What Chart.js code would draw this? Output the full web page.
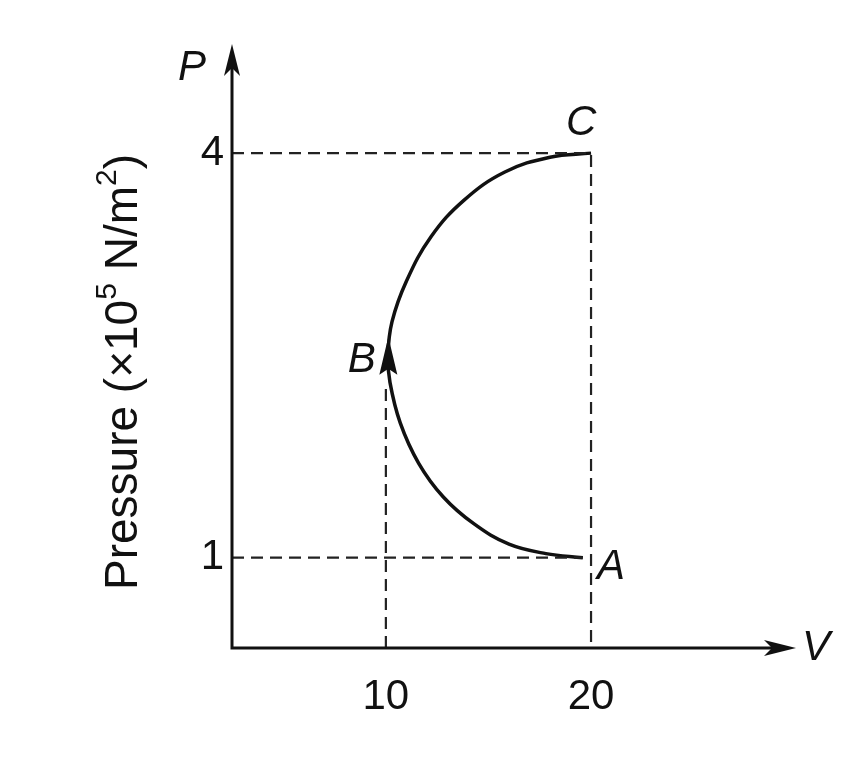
<!DOCTYPE html>
<html>
<head>
<meta charset="utf-8">
<script src="https://cdn.jsdelivr.net/npm/chart.js@4"></script>
<style>
  html, body { margin: 0; padding: 0; background: #fff; }
  #wrap { width: 860px; height: 763px; }
</style>
</head>
<body>
<div id="wrap"><canvas id="c"></canvas></div>
<script>
// curve A -> B -> C (V, P)
const curveV = [19.6, 17.8, 16.0, 14.3, 12.8, 11.6, 10.7, 10.2, 10.1, 10.3, 11.0, 12.2, 13.8, 15.8, 18.0, 20.0];
const curveP = [1.0, 1.03, 1.1, 1.25, 1.45, 1.7, 2.0, 2.3, 2.5, 2.75, 3.05, 3.38, 3.65, 3.86, 3.97, 4.0];
const xTicks = [10, 20];
const yTicks = [1, 4];
const pointLabels = [
  { text: 'A', v: 20, p: 1 },
  { text: 'B', v: 10, p: 2.46 },
  { text: 'C', v: 20, p: 4 }
];
const X_MIN = 2.5, X_MAX = 29.6;
const Y_MIN = 0.33, Y_MAX = 4.75;

const curve = curveV.map((v, i) => ({ x: v, y: curveP[i] }));
const dash = { borderColor: '#222', borderWidth: 2.2, borderDash: [12, 7], pointRadius: 0, fill: false, tension: 0 };

const axesPlugin = {
  id: 'axes',
  afterDraw(chart) {
    const ctx = chart.ctx;
    const xs = chart.scales.x, ys = chart.scales.y;
    const x0 = xs.getPixelForValue(X_MIN), y0 = ys.getPixelForValue(Y_MIN);
    const xEnd = xs.getPixelForValue(X_MAX), yEnd = ys.getPixelForValue(Y_MAX);
    ctx.save();
    ctx.strokeStyle = '#111'; ctx.fillStyle = '#111'; ctx.lineWidth = 3;
    ctx.beginPath();
    ctx.moveTo(x0, yEnd + 10); ctx.lineTo(x0, y0); ctx.lineTo(xEnd - 10, y0);
    ctx.stroke();
    // arrow heads
    ctx.beginPath();
    ctx.moveTo(x0, yEnd - 8); ctx.lineTo(x0 - 8, yEnd + 24); ctx.lineTo(x0, yEnd + 16); ctx.lineTo(x0 + 8, yEnd + 24); ctx.closePath(); ctx.fill();
    ctx.beginPath();
    ctx.moveTo(xEnd + 8, y0); ctx.lineTo(xEnd - 24, y0 - 8); ctx.lineTo(xEnd - 16, y0); ctx.lineTo(xEnd - 24, y0 + 8); ctx.closePath(); ctx.fill();
    // arrow at B on curve
    const bx = xs.getPixelForValue(10.12), by = ys.getPixelForValue(2.46);
    ctx.beginPath();
    ctx.moveTo(bx, by - 24); ctx.lineTo(bx - 9, by + 14); ctx.lineTo(bx, by + 8); ctx.lineTo(bx + 9, by + 14); ctx.closePath(); ctx.fill();

    ctx.font = '42px "Liberation Sans", Arial, sans-serif';
    ctx.textAlign = 'center'; ctx.textBaseline = 'top';
    xTicks.forEach(t => ctx.fillText(String(t), xs.getPixelForValue(t), y0 + 28));
    ctx.textAlign = 'right'; ctx.textBaseline = 'middle';
    yTicks.forEach(t => ctx.fillText(String(t), x0 - 8, ys.getPixelForValue(t)));

    ctx.font = 'italic 42px "Liberation Sans", Arial, sans-serif';
    ctx.textAlign = 'center';
    ctx.fillText('P', x0 - 40, yEnd + 16);
    ctx.textAlign = 'left';
    ctx.fillText('V', xEnd + 14, y0);
    pointLabels.forEach(l => {
      const px = xs.getPixelForValue(l.v), py = ys.getPixelForValue(l.p);
      if (l.text === 'A') ctx.fillText('A', px + 6, py + 10);
      if (l.text === 'B') { ctx.textAlign = 'right'; ctx.fillText('B', px - 10, py); ctx.textAlign = 'left'; }
      if (l.text === 'C') { ctx.textAlign = 'center'; ctx.fillText('C', px - 10, py - 30); ctx.textAlign = 'left'; }
    });

    // y title
    ctx.translate(124, 372);
    ctx.rotate(-Math.PI / 2);
    ctx.textAlign = 'left'; ctx.textBaseline = 'middle';
    const big = '46px "Liberation Sans", Arial, sans-serif', small = '30px "Liberation Sans", Arial, sans-serif';
    const parts = [['Pressure (×10', big, 0], ['5', small, -16], [' N/m', big, 0], ['2', small, -16], [')', big, 0]];
    let total = 0;
    parts.forEach(p => { ctx.font = p[1]; p.push(ctx.measureText(p[0]).width); total += p[3]; });
    let x = -total / 2;
    parts.forEach(p => { ctx.font = p[1]; ctx.fillText(p[0], x, p[2]); x += p[3]; });
    ctx.restore();
  }
};

new Chart(document.getElementById('c'), {
  type: 'scatter',
  data: {
    datasets: [
      Object.assign({ data: [{ x: X_MIN, y: 4 }, { x: 20, y: 4 }, { x: 20, y: Y_MIN }] }, dash, { showLine: true }),
      Object.assign({ data: [{ x: X_MIN, y: 1 }, { x: 19.6, y: 1 }] }, dash, { showLine: true }),
      Object.assign({ data: [{ x: 10, y: Y_MIN }, { x: 10, y: 2.3 }] }, dash, { showLine: true }),
      { data: curve, showLine: true, borderColor: '#111', borderWidth: 3.5, pointRadius: 0, tension: 0.4, fill: false }
    ]
  },
  options: {
    responsive: true,
    maintainAspectRatio: false,
    animation: false,
    layout: { padding: { left: 232, right: 72, top: 52, bottom: 115 } },
    plugins: { legend: { display: false }, tooltip: { enabled: false } },
    scales: {
      x: { type: 'linear', display: false, min: X_MIN, max: X_MAX },
      y: { type: 'linear', display: false, min: Y_MIN, max: Y_MAX }
    }
  },
  plugins: [axesPlugin]
});
</script>
</body>
</html>
